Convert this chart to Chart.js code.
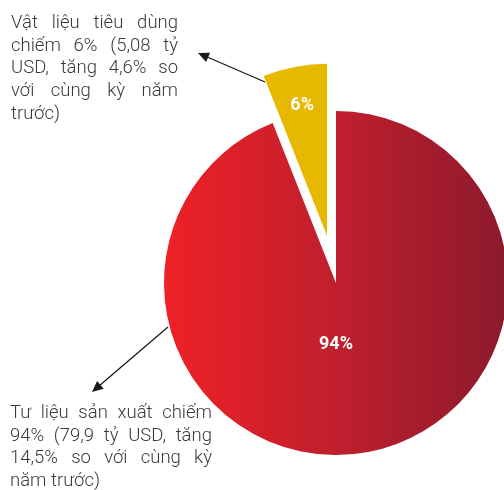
<!DOCTYPE html>
<html lang="vi">
<head>
<meta charset="utf-8">
<script src="https://cdn.jsdelivr.net/npm/chart.js@4.4.1/dist/chart.umd.min.js"></script>
<style>
  html, body { margin: 0; padding: 0; width: 504px; height: 490px; overflow: hidden; background: #fff; }
  #wrap { position: absolute; left: 0; top: 0; width: 672px; height: 490px; }
  .note { position: absolute; font-family: Roboto, "Noto Sans", sans-serif; font-weight: 300;
          font-size: 18.5px; line-height: 22.7px; color: #3a3a3a; }
  .note div { text-align: justify; text-align-last: justify; white-space: nowrap; }
  .note div.last { text-align-last: left; }
</style>
</head>
<body>
<div id="wrap"><canvas id="pieChart" width="672" height="490"></canvas></div>

<div class="note" id="noteTop" style="left:11px; top:11px; width:167px;"></div>
<div class="note" id="noteBottom" style="left:10px; top:401px; width:202px;"></div>

<script>
// du lieu
const categories = ['Tư liệu sản xuất', 'Vật liệu tiêu dùng'];
const shares = [94, 6]; // %
const sliceColors = ['red-gradient', '#E7B800'];

const noteTopLines = ['Vật liệu tiêu dùng', 'chiếm 6% (5,08 tỷ', 'USD, tăng 4,6% so', 'với cùng kỳ năm', 'trước)'];
const noteBottomLines = ['Tư liệu sản xuất chiếm', '94% (79,9 tỷ USD, tăng', '14,5% so với cùng kỳ', 'năm trước)'];

const RADIUS = 172;
const explodeList = [0, 48]; // px, mieng tach ra

function fillNote(id, lines) {
    const el = document.getElementById(id);
    lines.forEach((t, i) => {
        const d = document.createElement('div');
        d.textContent = t;
        if (i === lines.length - 1) d.className = 'last';
        el.appendChild(d);
    });
}
fillNote('noteTop', noteTopLines);
fillNote('noteBottom', noteBottomLines);

function redGradient(context) {
    const chart = context.chart;
    const area = chart.chartArea;
    if (!area) return '#C41F2D';
    const cx = (area.left + area.right) / 2;
    const g = chart.ctx.createLinearGradient(cx - RADIUS, 0, cx + RADIUS, 0);
    g.addColorStop(0, '#EF2127');
    g.addColorStop(0.5, '#C01F2D');
    g.addColorStop(1, '#8B1A2C');
    return g;
}

// offset cua Chart.js lam hep goc va doi ban kinh -> tu day tam mieng ra theo phan giac
const explode = {
    id: 'explode',
    beforeDatasetsDraw(chart) {
        const area = chart.chartArea;
        const cx = (area.left + area.right) / 2;
        const cy = (area.top + area.bottom) / 2;
        chart.getDatasetMeta(0).data.forEach((arc, i) => {
            const mid = (arc.startAngle + arc.endAngle) / 2;
            arc.x = cx + Math.cos(mid) * explodeList[i];
            arc.y = cy + Math.sin(mid) * explodeList[i];
        });
    }
};

// nhan % va mui ten
const labelPlugin = {
    id: 'pctLabels',
    afterDatasetsDraw(chart) {
        const ctx = chart.ctx;
        const arcs = chart.getDatasetMeta(0).data;
        ctx.save();
        ctx.fillStyle = '#fff';
        ctx.font = 'bold 18px Roboto, "Noto Sans", sans-serif';
        ctx.textAlign = 'center';
        ctx.textBaseline = 'middle';
        // 94% nam ngay duoi tam
        const a0 = arcs[0];
        ctx.fillText(shares[0] + '%', a0.x, a0.y + 0.36 * RADIUS);
        // 6% tren duong phan giac
        const a1 = arcs[1];
        const mid = (a1.startAngle + a1.endAngle) / 2;
        const r1 = 0.77 * RADIUS;
        ctx.fillText(shares[1] + '%', a1.x + Math.cos(mid) * r1, a1.y + Math.sin(mid) * r1);

        // mui ten
        drawArrow(ctx, 265, 82, 198, 53);
        drawArrow(ctx, 168, 327, 92, 392);
        ctx.restore();
    }
};

function drawArrow(ctx, x1, y1, x2, y2) {
    const ang = Math.atan2(y2 - y1, x2 - x1);
    const len = 11, half = 5;
    ctx.strokeStyle = '#1a1a1a';
    ctx.fillStyle = '#1a1a1a';
    ctx.lineWidth = 1.3;
    ctx.beginPath();
    ctx.moveTo(x1, y1);
    ctx.lineTo(x2 - Math.cos(ang) * len * 0.8, y2 - Math.sin(ang) * len * 0.8);
    ctx.stroke();
    ctx.beginPath();
    ctx.moveTo(x2, y2);
    ctx.lineTo(x2 - Math.cos(ang) * len - Math.sin(ang) * half, y2 - Math.sin(ang) * len + Math.cos(ang) * half);
    ctx.lineTo(x2 - Math.cos(ang) * len + Math.sin(ang) * half, y2 - Math.sin(ang) * len - Math.cos(ang) * half);
    ctx.closePath();
    ctx.fill();
}

new Chart(document.getElementById('pieChart').getContext('2d'), {
    type: 'pie',
    data: {
        labels: categories,
        datasets: [{
            data: shares,
            backgroundColor: (c) => sliceColors[c.dataIndex] === 'red-gradient' ? redGradient(c) : sliceColors[c.dataIndex],
            borderWidth: 0
        }]
    },
    options: {
        responsive: false,
        animation: false,
        events: [],
        radius: RADIUS,
        layout: { padding: { top: 76, bottom: 0, left: 0, right: 0 } },
        plugins: {
            legend: { display: false },
            tooltip: { enabled: false }
        }
    },
    plugins: [explode, labelPlugin]
});
</script>
</body>
</html>
